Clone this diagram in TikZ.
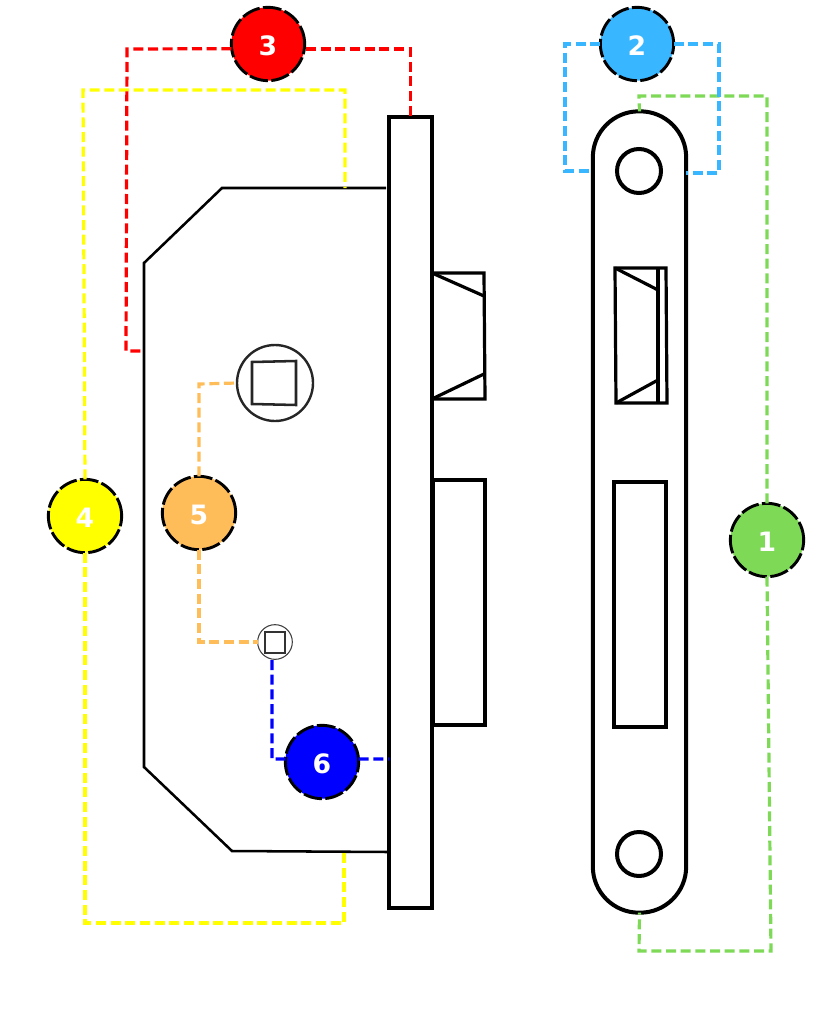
\documentclass[tikz,border=0pt]{standalone}
\usepackage{fontspec}
\setsansfont{DejaVu Sans}
\definecolor{cgreen}{HTML}{7ED957}
\definecolor{csky}{HTML}{38B6FF}
\definecolor{cred}{HTML}{FF0000}
\definecolor{cyellow}{HTML}{FFFF00}
\definecolor{corange}{HTML}{FFBD59}
\definecolor{cblue}{HTML}{0000FF}
\tikzset{
  badge/.style={circle, minimum size=55pt, inner sep=0pt, outer sep=0pt, draw=black, line width=2.2pt, dash pattern=on 14pt off 2.5pt, text=white, text height=17.5pt, text depth=0pt, font=\sffamily\bfseries\fontsize{20}{20}\selectfont},
  plate/.style={rectangle, inner sep=0pt, outer sep=0pt, draw=black, line width=3pt},
  hole/.style={circle, inner sep=0pt, outer sep=0pt, draw=black, line width=3pt, minimum size=33pt},
  knob/.style={circle, inner sep=0pt, outer sep=0pt, draw=black!85, line width=1.8pt, minimum size=57pt},
  knobs/.style={circle, inner sep=0pt, outer sep=0pt, draw=black!75, line width=.8pt, minimum size=26pt},
  lnk/.style={line width=2.4pt, dash pattern=on 7.5pt off 3.5pt}
}
\begin{document}
\begin{tikzpicture}[x=.75pt, y=-.75pt, line join=miter]
\useasboundingbox (0,0) rectangle (819,1024);
% lock case
\draw[line width=1.9pt] (386,188) -- (222,188) -- (144,263) -- (144,767) -- (232,851) -- (389,852);
\node[plate, minimum width=32pt, minimum height=593pt] (face) at (410.5,512.5) {};
\node[knob] (spin) at (275,383) {};
\draw[line width=1.9pt, draw=black!85] (252,362) -- (296,361) -- (296,405) -- (252,404) -- cycle;
\node[knobs] (spins) at (275,642) {};
\draw[line width=.9pt, draw=black!80] (265,632) -- (285,632) -- (285,653) -- (265,653) -- cycle;
% latch and bolt
\draw[line width=2.4pt] (432,273) -- (484,273) -- (485,399) -- (432,399);
\draw[line width=2.4pt] (432,273) -- (484,296);
\draw[line width=2.4pt] (432,399) -- (484,374);
\node[plate, minimum width=39pt, minimum height=184pt] (bolt) at (458.5,602.5) {};
% strike plate
\node[plate, rounded corners=34.5pt, minimum width=70pt, minimum height=601pt] (strike) at (639.5,512) {};
\node[hole] (h1) at (639,171) {};
\node[hole] (h2) at (639,854) {};
\draw[line width=2.4pt] (615,268) -- (666,268) -- (667,403) -- (616,403) -- cycle;
\draw[line width=2.4pt] (658,268) -- (658,403);
\draw[line width=2.4pt] (615,268) -- (658,290);
\draw[line width=2.4pt] (616,403) -- (658,380);
\node[plate, minimum width=39pt, minimum height=184pt] (slot) at (639.5,604.5) {};
% badges
\node[badge, fill=cgreen] (b1) at (767,540) {1};
\node[badge, fill=csky] (b2) at (637,44) {2};
\node[badge, fill=cred] (b3) at (268,44) {3};
\node[badge, fill=cyellow] (b4) at (85,516) {4};
\node[badge, fill=corange] (b5) at (199,513) {5};
\node[badge, fill=cblue] (b6) at (322,762) {6};
% free ends
\coordinate (casetop) at (345,188);
\coordinate (casebot) at (344,852);
\coordinate (caseleft) at (144,351);
\coordinate (stl) at (593,171);
\coordinate (str) at (686,173);
% 1
\coordinate (g1) at (639,96);
\coordinate (g2) at (639,951);
\draw[lnk, cgreen] (b1.north) |- (g1) -- (strike.north);
\draw[lnk, cgreen] (b1.south) -- (771,951) -- (g2) -- (strike.south);
% 4
\coordinate (y1) at (83,90);
\coordinate (y2) at (85,923);
\draw[lnk, cyellow] (b4.north) -- (y1) -| (casetop);
\draw[lnk, cyellow] (b4.south) -- (y2) -| (casebot);
% 2
\coordinate (s1) at (565,171);
\coordinate (s2) at (719,173);
\draw[lnk, csky] (b2.west) -| (s1) -- (stl);
\draw[lnk, csky] (b2.east) -| (s2) -- (str);
% 3
\coordinate (r1) at (127,49);
\coordinate (r2) at (126,351);
\coordinate (r3) at (306,49);
\draw[lnk, cred] ([yshift=-3.5pt]b3.west) -- (r1) -- (r2) -- (caseleft);
\draw[lnk, cred] (r3) -| (face.north);
% 5
\coordinate (o1) at (199,384);
\coordinate (o2) at (199,642);
\draw[lnk, corange] (b5.north) -- (o1) -- (spin.west);
\draw[lnk, corange] (b5.south) -- (o2) -- (spins.west);
% 6
\coordinate (d1) at (272,759);
\coordinate (d2) at (272,660);
\coordinate (d3) at (389,759);
\draw[lnk, cblue] (d2) -- (d1) -- ([yshift=2.2pt]b6.west);
\draw[lnk, cblue] ([yshift=2.2pt]b6.east) -- (d3);
\end{tikzpicture}
\end{document}
